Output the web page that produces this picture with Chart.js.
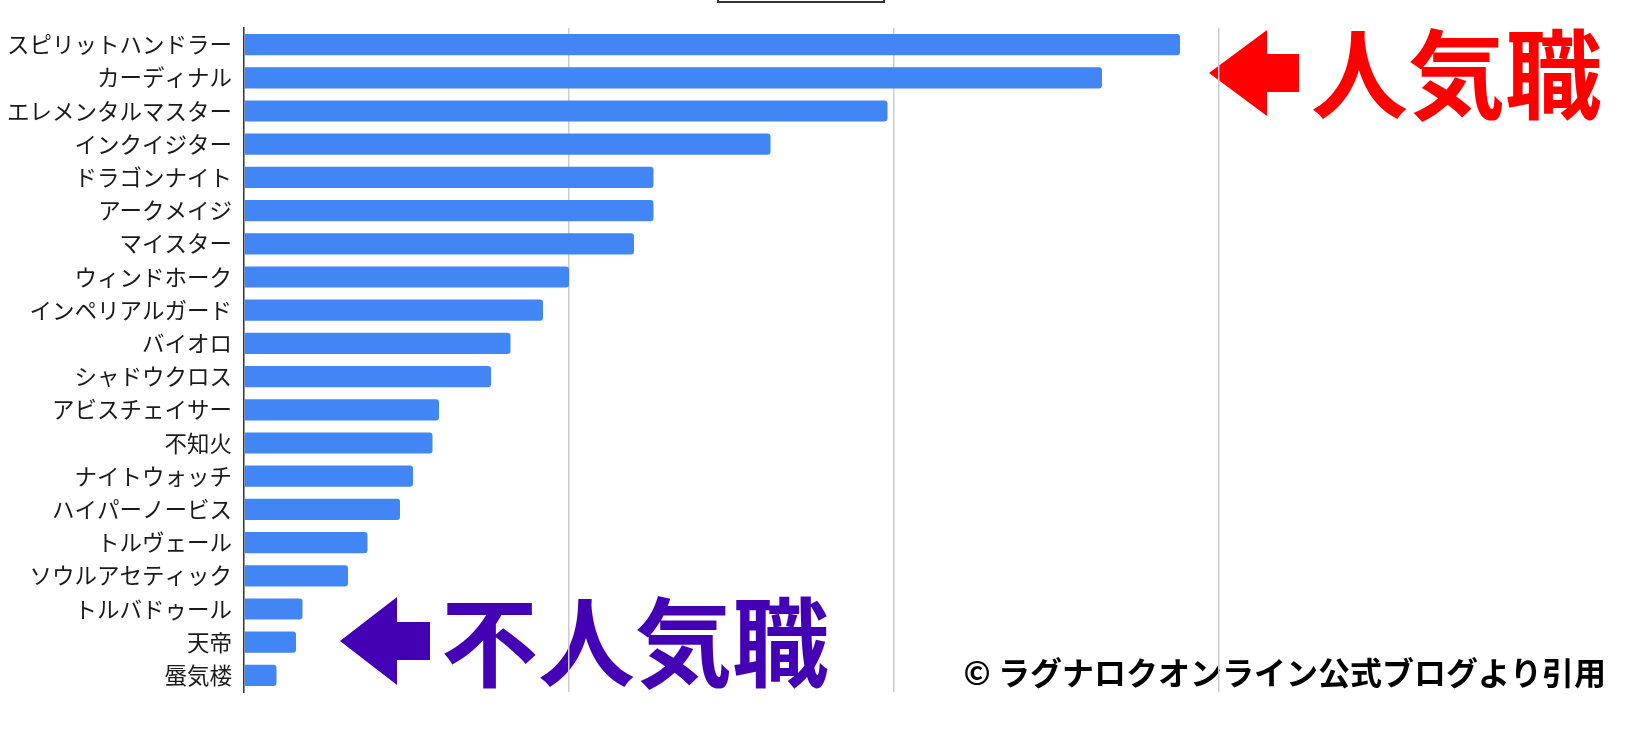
<!DOCTYPE html>
<html>
<head>
<meta charset="utf-8">
<script src="https://cdn.jsdelivr.net/npm/chart.js@4"></script>
<style>
  body { margin: 0; background: #fff; }
  #wrap { width: 1643px; height: 741px; position: relative; }
</style>
</head>
<body>
<div id="wrap"><canvas id="myChart"></canvas></div>
<script>
const jobNames = [
  "スピリットハンドラー", "カーディナル", "エレメンタルマスター", "インクイジター",
  "ドラゴンナイト", "アークメイジ", "マイスター", "ウィンドホーク",
  "インペリアルガード", "バイオロ", "シャドウクロス", "アビスチェイサー",
  "不知火", "ナイトウォッチ", "ハイパーノービス", "トルヴェール",
  "ソウルアセティック", "トルバドゥール", "天帝", "蜃気楼"
];
const jobShare = [14.4, 13.2, 9.9, 8.1, 6.3, 6.3, 6.0, 5.0, 4.6, 4.1,
                  3.8, 3.0, 2.9, 2.6, 2.4, 1.9, 1.6, 0.9, 0.8, 0.5];
const xTicks = [0, 5, 10, 15, 20];

const jpFont = "'Noto Sans CJK JP', 'Noto Sans', sans-serif";

// arrows + captions drawn under the grid
const notes = {
  id: "notes",
  beforeDraw(chart) {
    const c = chart.ctx;
    c.save();

    // cut-off box at the very top
    c.strokeStyle = "#333";
    c.lineWidth = 2;
    c.beginPath();
    c.moveTo(718, 0); c.lineTo(718, 2); c.lineTo(884, 2); c.lineTo(884, 0);
    c.stroke();

    function arrow(tipX, tipY, headX, headHalf, tailX, shaftHalf, col) {
      c.fillStyle = col;
      c.beginPath();
      c.moveTo(tipX, tipY);
      c.lineTo(headX, tipY - headHalf);
      c.lineTo(headX, tipY - shaftHalf);
      c.lineTo(tailX, tipY - shaftHalf);
      c.lineTo(tailX, tipY + shaftHalf);
      c.lineTo(headX, tipY + shaftHalf);
      c.lineTo(headX, tipY + headHalf);
      c.closePath();
      c.fill();
    }

    arrow(1209, 73, 1267, 43, 1299, 19, "#ff0000");
    c.font = "bold 97px " + jpFont;
    c.textBaseline = "middle";
    c.textAlign = "left";
    c.fillStyle = "#ff0000";
    c.fillText("人気職", 1311, 74);

    arrow(340, 641, 397, 44, 430, 19, "#4400b4");
    c.font = "bold 97px " + jpFont;
    c.fillStyle = "#4400b4";
    c.fillText("不人気職", 441, 642);

    c.font = "bold 32px " + jpFont;
    c.textAlign = "right";
    c.fillStyle = "#000";
    c.fillText("© ラグナロクオンライン公式ブログより引用", 1606, 673);

    c.restore();
  }
};

new Chart("myChart", {
  type: "bar",
  data: {
    labels: jobNames,
    datasets: [{
      data: jobShare,
      backgroundColor: "#4285f4",
      borderRadius: 3,
      borderSkipped: "start",
      barPercentage: 0.64,
      categoryPercentage: 1
    }]
  },
  options: {
    indexAxis: "y",
    responsive: true,
    maintainAspectRatio: false,
    animation: false,
    layout: { padding: { left: 0, right: 99, top: 28, bottom: 49 } },
    plugins: {
      legend: { display: false },
      tooltip: { enabled: false }
    },
    scales: {
      x: {
        min: 0,
        max: 20,
        afterBuildTicks(scale) { scale.ticks = xTicks.map(v => ({ value: v })); },
        ticks: { display: false },
        border: { display: false },
        grid: {
          drawTicks: false,
          lineWidth: 1.5,
          color: ctx => (ctx.tick.value === 0 || ctx.tick.value === 20) ? "rgba(0,0,0,0)" : "#cccccc"
        }
      },
      y: {
        afterFit(scale) { scale.width = 244; },
        grid: { display: false, drawTicks: false },
        border: { display: true, color: "#333", width: 1.5 },
        ticks: {
          color: "#1a1a1a",
          padding: 12,
          font: { family: jpFont, size: 22.5 }
        }
      }
    }
  },
  plugins: [notes]
});
</script>
</body>
</html>
